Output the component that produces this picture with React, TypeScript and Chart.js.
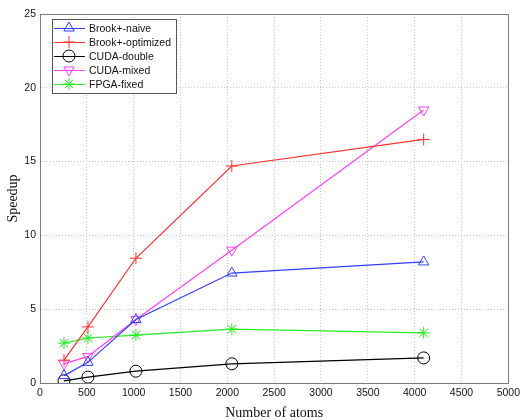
import React, { useEffect, useRef } from "react";
import { Chart, registerables } from "chart.js";
import { drawPoint } from "chart.js/helpers";
Chart.register(...registerables);

const atoms = [256, 512, 1024, 2048, 4096];
const brookNaive = [0.5, 1.4, 4.3, 7.45, 8.2];
const brookOptimized = [1.55, 3.8, 8.45, 14.7, 16.5];
const cudaDouble = [0.15, 0.4, 0.8, 1.3, 1.7];
const cudaMixed = [1.3, 1.8, 4.3, 9.0, 18.5];
const fpgaFixed = [2.7, 3.05, 3.25, 3.65, 3.4];

const seriesNames = ["Brook+-naive", "Brook+-optimized", "CUDA-double", "CUDA-mixed", "FPGA-fixed"];
const seriesValues = [brookNaive, brookOptimized, cudaDouble, cudaMixed, fpgaFixed];
const seriesColors = ["#2f3fff", "#ff3030", "#000000", "#ff40ff", "#22ee22"];
const seriesMarkers = ["triangle", "cross", "circle", "triangle", "star"];
const seriesRotation = [0, 0, 0, 180, 0];
const seriesRadius = [6, 6, 6, 6, 6];

const SANS = "'Liberation Sans', Arial, sans-serif";
const SERIF = "'Liberation Serif', 'Times New Roman', serif";

const boxPlugin = {
  id: "boxAndLegend",
  afterDraw(chart: any) {
    const { ctx, chartArea } = chart;
    const { left, top, right, bottom } = chartArea;
    ctx.save();
    ctx.strokeStyle = "#7a7a7a";
    ctx.lineWidth = 1;
    ctx.setLineDash([]);
    ctx.strokeRect(Math.round(left) + 0.5, Math.round(top) + 0.5, Math.round(right - left), Math.round(bottom - top));

    // legend
    const lx = Math.round(left) + 12;
    const ly = Math.round(top) + 5;
    const lw = 124;
    const lh = 74;
    ctx.fillStyle = "#ffffff";
    ctx.fillRect(lx, ly, lw, lh);
    ctx.strokeStyle = "#555555";
    ctx.strokeRect(lx + 0.5, ly + 0.5, lw, lh);
    ctx.font = `10.5px ${SANS}`;
    ctx.textBaseline = "middle";
    ctx.textAlign = "left";
    chart.data.datasets.forEach((ds: any, i: number) => {
      const y = ly + 9 + i * 14;
      ctx.strokeStyle = ds.borderColor;
      ctx.lineWidth = 1;
      ctx.beginPath();
      ctx.moveTo(lx + 2, y + 0.5);
      ctx.lineTo(lx + 33, y + 0.5);
      ctx.stroke();
      ctx.fillStyle = "rgba(0,0,0,0)";
      ctx.strokeStyle = ds.borderColor;
      drawPoint(ctx, {
        pointStyle: ds.pointStyle,
        rotation: ds.pointRotation,
        borderWidth: 1,
        radius: ds.pointRadius,
      } as any, lx + 17, y);
      ctx.fillStyle = "#111111";
      ctx.fillText(ds.label, lx + 37, y + 1);
    });
    ctx.restore();
  },
};

export default function App() {
  const ref = useRef<HTMLCanvasElement>(null);
  useEffect(() => {
    document.body.style.margin = "0";
    const canvas = ref.current!;
    const chart = new Chart(canvas, {
      type: "line",
      data: {
        datasets: seriesNames.map((name, i) => ({
          label: name,
          data: atoms.map((a, j) => ({ x: a, y: seriesValues[i][j] })),
          borderColor: seriesColors[i],
          backgroundColor: "rgba(0,0,0,0)",
          pointBorderColor: seriesColors[i],
          pointBackgroundColor: "rgba(0,0,0,0)",
          pointStyle: seriesMarkers[i] as any,
          pointRotation: seriesRotation[i],
          pointRadius: seriesRadius[i],
          pointBorderWidth: 1,
          borderWidth: 1.2,
          tension: 0,
        })),
      },
      options: {
        animation: false,
        responsive: false,
        devicePixelRatio: 1,
        layout: { padding: { top: 14, right: 13, left: 0, bottom: 0 } },
        plugins: { legend: { display: false }, tooltip: { enabled: false } },
        scales: {
          x: {
            type: "linear",
            min: 0,
            max: 5000,
            ticks: { stepSize: 500, padding: 4, color: "#111", font: { family: SANS, size: 10.5 }, callback: (v: any) => String(v) },
            grid: { color: "#c4c4c4", drawTicks: false },
            border: { color: "#7a7a7a", dash: [1, 2] },
            title: { display: true, text: "Number of atoms", color: "#111", font: { family: SERIF, size: 14, lineHeight: 1 }, padding: 0 },
            afterFit: (s: any) => { s.height = 37; },
          },
          y: {
            min: 0,
            max: 25,
            ticks: { stepSize: 5, padding: 4, color: "#111", font: { family: SANS, size: 10.5 }, callback: (v: any) => String(v) },
            grid: { color: "#c4c4c4", drawTicks: false },
            border: { color: "#7a7a7a", dash: [1, 2] },
            title: { display: true, text: "Speedup", color: "#111", font: { family: SERIF, size: 14, lineHeight: 1 }, padding: { top: 6, bottom: 0 } },
            afterFit: (s: any) => { s.width = 40; },
          },
        },
      },
      plugins: [boxPlugin],
    });
    return () => chart.destroy();
  }, []);
  return <canvas ref={ref} width={524} height={420} style={{ display: "block", width: 524, height: 420 }} />;
}
